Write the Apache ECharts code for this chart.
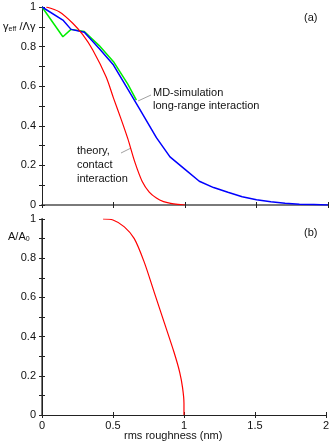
<!DOCTYPE html>
<html><head><meta charset="utf-8">
<script src="https://cdn.jsdelivr.net/npm/echarts@6/dist/echarts.min.js"></script>
<style>html,body{margin:0;padding:0;background:#fff}#c{width:332px;height:448px}</style>
</head><body><div id="c"></div>
<script>
// Panel (a): effective adhesion vs rms roughness
const theoryA = [[0.03,1.0],[0.12,0.976],[0.215,0.918],[0.285,0.86],[0.355,0.783],[0.448,0.648],[0.5,0.54],[0.55,0.44],[0.6,0.335],[0.65,0.215],[0.7,0.12],[0.75,0.065],[0.8,0.035],[0.85,0.017],[0.9,0.008],[0.95,0.003],[1.0,0.0]];
const mdLong = [[0,1.0],[0.146,0.934],[0.203,0.887],[0.296,0.872],[0.4,0.79],[0.5,0.707],[0.6,0.585],[0.68,0.488],[0.8,0.34],[0.895,0.243],[1.0,0.18],[1.1,0.12],[1.2,0.088],[1.3,0.064],[1.4,0.042],[1.5,0.026],[1.6,0.016],[1.7,0.009],[1.8,0.004],[1.9,0.002],[2.0,0.0]];
const mdGreen = [[0,1.0],[0.146,0.85],[0.203,0.887],[0.296,0.876],[0.4,0.805],[0.5,0.724],[0.6,0.61],[0.66,0.53]];
// Panel (b): relative contact area vs rms roughness
const areaB = [[0.43,1.0],[0.5,0.995],[0.58,0.96],[0.65,0.9],[0.72,0.78],[0.79,0.627],[0.86,0.474],[0.93,0.32],[0.97,0.218],[0.99,0.14],[1.0,0.06],[1.0,0.0]];
const xTicks = ['0','0.5','1','1.5','2'];

const chart = echarts.init(document.getElementById('c'), null, {renderer:'canvas'});
const FONT = '"Liberation Sans", Arial, sans-serif';
const blackLine = {lineStyle:{color:'#222', width:1}};
const greyLine = {lineStyle:{color:'#7a7a7a', width:2}};
const tick = {inside:true, length:3, lineStyle:{color:'#222'}};
function yLab(v){ const k=Math.round(v*10); return k%2===0 ? String(+(v.toFixed(1))) : ''; }
function xAx(grid, pos, show, line){
  return {type:'value', gridIndex:grid, position:pos, min:0, max:2, interval:0.5,
    axisLine:line, axisTick:tick, splitLine:{show:false},
    axisLabel:{show:show, color:'#111', fontFamily:FONT, fontSize:11, margin:5,
      formatter:v=>xTicks[Math.round(v*2)]}};
}
function yAx(grid, pos, show, line){
  return {type:'value', gridIndex:grid, position:pos, min:0, max:1, interval:0.1,
    axisLine:line, axisTick:tick, splitLine:{show:false},
    axisLabel:{show:show, color:'#111', fontFamily:FONT, fontSize:11, margin:6, formatter:yLab, showMinLabel:true, showMaxLabel:true}};
}
const option = {
  animation:false,
  backgroundColor:'#fff',
  grid:[{left:42,right:4,top:7,height:198},{left:42,right:4,top:219,height:196}],
  xAxis:[xAx(0,'bottom',false,blackLine), xAx(0,'top',false,greyLine), xAx(1,'bottom',true,blackLine), xAx(1,'top',false,blackLine)],
  yAxis:[yAx(0,'left',true,blackLine), yAx(0,'right',false,blackLine), yAx(1,'left',true,greyLine), yAx(1,'right',false,blackLine)],
  series:[
    {type:'line', xAxisIndex:0, yAxisIndex:0, data:mdGreen, symbol:'none', lineStyle:{color:'#00ee00', width:1.5}},
    {type:'line', xAxisIndex:0, yAxisIndex:0, data:mdLong, symbol:'none', lineStyle:{color:'#0000ff', width:1.5}},
    {type:'line', xAxisIndex:0, yAxisIndex:0, data:theoryA, symbol:'none', smooth:0.3, lineStyle:{color:'#ff0000', width:1.2}},
    {type:'line', xAxisIndex:2, yAxisIndex:2, data:areaB, symbol:'none', smooth:0.3, lineStyle:{color:'#ff0000', width:1.2}}
  ],
  graphic:[
    {type:'text', left:3, top:21, style:{rich:{m:{fontFamily:FONT,fontSize:11,fill:'#111'}, s:{fontFamily:FONT,fontSize:7,fill:'#111',padding:[5,0,0,0]}}, text:'{m|γ}{s|eff} {m|/Λγ}'}},
    {type:'text', left:8, top:231, style:{rich:{m:{fontFamily:FONT,fontSize:11,fill:'#111'}, s:{fontFamily:FONT,fontSize:7,fill:'#111',padding:[5,0,0,0]}}, text:'{m|A/A}{s|0}'}},
    {type:'text', left:304, top:12, style:{text:'(a)', font:'11px '+FONT, fill:'#111'}},
    {type:'text', left:304, top:227, style:{text:'(b)', font:'11px '+FONT, fill:'#111'}},
    {type:'text', left:153, top:86, style:{text:'MD-simulation\nlong-range interaction', font:'11px '+FONT, fill:'#111', lineHeight:13}},
    {type:'text', left:77, top:144, style:{text:'theory,\ncontact\ninteraction', font:'11px '+FONT, fill:'#111', lineHeight:14}},
    {type:'line', shape:{x1:138,y1:101,x2:151,y2:95}, style:{stroke:'#888', lineWidth:0.8}},
    {type:'line', shape:{x1:121,y1:153,x2:131,y2:148}, style:{stroke:'#888', lineWidth:0.8}},
    {type:'text', left:124, top:430, style:{text:'rms roughness (nm)', font:'11px '+FONT, fill:'#111'}}
  ]
};
chart.setOption(option);
</script></body></html>
